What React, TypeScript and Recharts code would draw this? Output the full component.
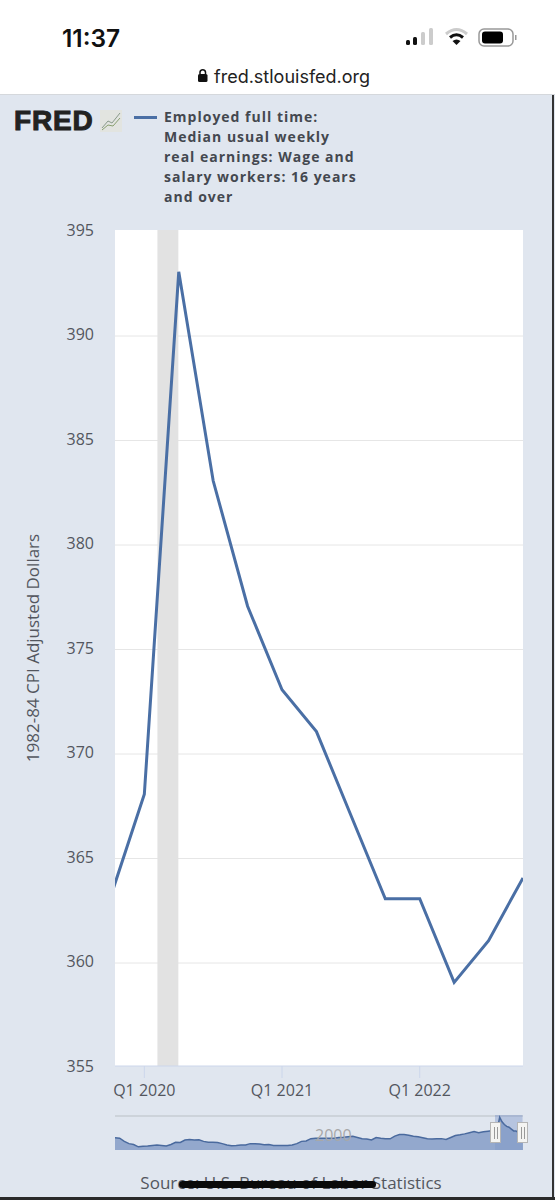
import {
  Area,
  AreaChart,
  CartesianGrid,
  ComposedChart,
  Line,
  ReferenceArea,
  XAxis,
  YAxis,
} from "recharts";

const quarters = [2019.75, 2020, 2020.25, 2020.5, 2020.75, 2021, 2021.25, 2021.5, 2021.75, 2022, 2022.25, 2022.5, 2022.75];
const earnings = [363, 368, 393, 383, 377, 373, 371, 367, 363, 363, 359, 361, 364];
const yTicks = [355, 360, 365, 370, 375, 380, 385, 390, 395];
const gridTicks = [360, 365, 370, 375, 380, 385, 390];
const xTicks = [2020, 2021, 2022];
const recession = [2020.095, 2020.247];
const selection = [2019.75, 2022.7];

const navYears = [
  1979, 1979.5, 1980, 1980.5, 1981, 1981.5, 1982, 1982.5, 1983, 1983.5, 1984, 1984.5, 1985, 1985.5,
  1986, 1986.5, 1987, 1987.5, 1988, 1988.5, 1989, 1989.5, 1990, 1990.5, 1991, 1991.5, 1992, 1992.5,
  1993, 1993.5, 1994, 1994.5, 1995, 1995.5, 1996, 1996.5, 1997, 1997.5, 1998, 1998.5, 1999, 1999.5,
  2000, 2000.5, 2001, 2001.5, 2002, 2002.5, 2003, 2003.5, 2004, 2004.5, 2005, 2005.5, 2006, 2006.5,
  2007, 2007.5, 2008, 2008.5, 2009, 2009.5, 2010, 2010.5, 2011, 2011.5, 2012, 2012.5, 2013, 2013.5,
  2014, 2014.5, 2015, 2015.5, 2016, 2016.5, 2017, 2017.5, 2018, 2018.5, 2019, 2019.5, 2019.75,
  2020, 2020.25, 2020.5, 2020.75, 2021, 2021.25, 2021.5, 2021.75, 2022, 2022.25, 2022.5, 2022.75,
];
const navValues = [
  348, 347, 340, 335, 333, 328, 329.5, 330, 331, 332, 331, 330, 333, 338,
  337.5, 343, 344, 343, 343.5, 340, 338, 338, 337.5, 335, 332, 330.5, 331, 332,
  332, 335, 334.5, 334, 332.5, 333, 331, 331, 331, 331, 332, 335, 340, 341,
  346, 347, 347, 347, 347, 347, 348.5, 349, 350, 351, 348.5, 346, 345, 343,
  348.5, 347, 346, 345.5, 351.5, 355, 355, 353.5, 351.5, 350, 348, 346, 345, 346,
  346, 344, 348.5, 353, 354.5, 356.5, 359, 361.5, 359, 361, 362.5, 364, 363,
  368, 393, 383, 377, 373, 371, 367, 363, 363, 359, 361, 364,
];
const legendLines = [
  "Employed full time:",
  "Median usual weekly",
  "real earnings: Wage and",
  "salary workers: 16 years",
  "and over",
];

const chartData = quarters.map((q, i) => ({ q, value: earnings[i] }));
const navData = navYears.map((year, i) => ({ year, value: navValues[i] }));

const textColor = "#53565e";
const font = "'Open Sans', sans-serif";
const lineColor = "#4a6fa5";

function QuarterTick({ x, y, payload }: any) {
  return (
    <text x={x} y={y + 16} textAnchor="middle" fill={textColor} fontSize={16} fontFamily={font}>
      {`Q1 ${payload.value}`}
    </text>
  );
}

function Handle({ left }: { left: number }) {
  return (
    <div
      style={{
        position: "absolute",
        left,
        top: 1122,
        width: 11,
        height: 21,
        background: "#f4f4f2",
        border: "1px solid #b5b5b5",
        boxSizing: "border-box",
      }}
    >
      <div style={{ position: "absolute", left: 2.5, top: 4, width: 1.5, height: 12, background: "#999" }} />
      <div style={{ position: "absolute", left: 5.5, top: 4, width: 1.5, height: 12, background: "#999" }} />
    </div>
  );
}

function PhoneChrome() {
  return (
    <>
      <div style={{ position: "absolute", left: 0, top: 0, width: 555, height: 95, background: "#fff", borderBottom: "1px solid #d5d8dc", boxSizing: "border-box" }} />
      <div style={{ position: "absolute", left: 62, top: 23, fontFamily: "Inter, sans-serif", fontWeight: 600, fontSize: 24.5, color: "#111" }}>11:37</div>
      <svg style={{ position: "absolute", left: 0, top: 0 }} width={555} height={95}>
        <rect x={406} y={40} width={4} height={5} rx={1.5} fill="#111" />
        <rect x={413} y={37} width={4} height={8} rx={1.5} fill="#111" />
        <rect x={421} y={32} width={4} height={13} rx={1.5} fill="#ccc" />
        <rect x={429} y={28} width={4} height={17} rx={1.5} fill="#ccc" />
        <path d="M446 34 Q456.5 25 467 34" fill="none" stroke="#ccc" strokeWidth={3} />
        <path d="M450 37.5 Q456.5 32 463 37.5" fill="none" stroke="#111" strokeWidth={3} />
        <path d="M452.5 41 L456.5 45 L460.5 41 Q456.5 38 452.5 41Z" fill="#111" />
        <rect x={479} y={29} width={34} height={17} rx={5} fill="none" stroke="#999" strokeWidth={1.5} />
        <rect x={482} y={31.5} width={21} height={12} rx={3} fill="#000" />
        <rect x={515} y={35} width={1.5} height={5} fill="#999" />
        <rect x={198} y={74} width={9.5} height={8} rx={1.5} fill="#111" />
        <path d="M200 74 V72 a2.8 2.8 0 0 1 5.5 0 V74" fill="none" stroke="#111" strokeWidth={1.5} />
      </svg>
      <div style={{ position: "absolute", left: 214, top: 66, fontFamily: "Inter, sans-serif", fontSize: 18, color: "#222" }}>fred.stlouisfed.org</div>
      <div style={{ position: "absolute", left: 552, top: 95, width: 2, height: 1102, background: "#333" }} />
      <div style={{ position: "absolute", left: 0, top: 1197, width: 555, height: 3, background: "#2a2a2a" }} />
    </>
  );
}

export default function App() {
  return (
    <div style={{ position: "absolute", left: 0, top: 0, width: 555, height: 1200, background: "#e0e6ef", overflow: "hidden" }}>
      <PhoneChrome />

      <div style={{ position: "absolute", left: 14, top: 105, fontFamily: "'Liberation Sans', sans-serif", fontWeight: 700, fontSize: 28, letterSpacing: 0.8, color: "#222", WebkitTextStroke: "1px #222" }}>FRED</div>
      <svg style={{ position: "absolute", left: 100, top: 110 }} width={22} height={22}>
        <rect width={22} height={22} fill="#e2e4e0" />
        <path d="M2 18 L8 11 L12 13 L20 3" fill="none" stroke="#8a9a8a" strokeWidth={1} />
        <path d="M2 20 L8 15 L13 16 L20 8" fill="none" stroke="#8aa070" strokeWidth={1} />
      </svg>
      <div style={{ position: "absolute", left: 134, top: 116, width: 23, height: 3, background: lineColor }} />
      {legendLines.map((line, i) => (
        <div key={line} style={{ position: "absolute", left: 164, top: 107 + i * 20, fontFamily: font, fontWeight: 700, fontSize: 14, lineHeight: "20px", letterSpacing: 1, color: "#44484f", whiteSpace: "nowrap" }}>
          {line}
        </div>
      ))}

      <div style={{ position: "absolute", left: 0, top: 0 }}>
        <ComposedChart width={555} height={1200} data={chartData} margin={{ top: 230, right: 32, bottom: 100, left: 0 }}>
          {/* the reference's grid sits a pixel and a bit under its labels */}
          <CartesianGrid
            vertical={false}
            fill="#fff"
            stroke="#e6e6e6"
            horizontalCoordinatesGenerator={({ offset }: any) =>
              gridTicks.map((t) => offset.top + (offset.height * (395 - t)) / 40 + 1.5)
            }
          />
          <ReferenceArea x1={recession[0]} x2={recession[1]} fill="#e2e2e2" fillOpacity={1} stroke="none" />
          <XAxis
            dataKey="q"
            type="number"
            domain={[2019.787, 2022.75]}
            allowDataOverflow
            ticks={xTicks}
            height={34}
            tick={QuarterTick}
            tickSize={12}
            tickLine={{ stroke: "#ccd6eb" }}
            axisLine={{ stroke: "#ccd6eb" }}
          />
          <YAxis
            type="number"
            domain={[355, 395]}
            ticks={yTicks}
            width={115}
            interval={0}
            tickLine={false}
            axisLine={false}
            tickMargin={15}
            tick={{ fill: textColor, fontSize: 16, fontFamily: font }}
            label={{ value: "1982-84 CPI Adjusted Dollars", angle: -90, position: "insideLeft", offset: 33, fill: textColor, fontSize: 17, fontFamily: font, style: { textAnchor: "middle" } }}
          />
          <Line dataKey="value" type="linear" stroke={lineColor} strokeWidth={3} dot={false} isAnimationActive={false} />
        </ComposedChart>
      </div>

      <div style={{ position: "absolute", left: 115, top: 1115, width: 408, height: 2, background: "#cdd3da" }} />
      <div style={{ position: "absolute", left: 115, top: 1115 }}>
        <AreaChart width={408} height={35} data={navData} margin={{ top: 0, right: 0, bottom: 0, left: 0 }}>
          <XAxis dataKey="year" type="number" domain={[1979, 2022.75]} hide />
          <YAxis type="number" domain={[321, 398]} hide />
          <ReferenceArea x1={selection[0]} x2={selection[1]} fill="#6685c2" fillOpacity={0.35} stroke="none" />
          <Area dataKey="value" type="linear" stroke="#4a6a9e" strokeWidth={1.5} fill="#7f98c4" fillOpacity={0.8} isAnimationActive={false} />
        </AreaChart>
      </div>
      <div style={{ position: "absolute", left: 315, top: 1124, fontFamily: font, fontSize: 16, color: "#a8a8a8" }}>2000</div>
      <Handle left={490} />
      <Handle left={517} />

      <div style={{ position: "absolute", left: 0, width: 582, top: 1171, textAlign: "center", fontFamily: font, fontSize: 17, color: textColor, whiteSpace: "nowrap" }}>
        Source: U.S. Bureau of Labor Statistics
      </div>
      <div style={{ position: "absolute", left: 179, top: 1181, width: 197, height: 7, borderRadius: 4, background: "#0a0a0a" }} />
    </div>
  );
}
